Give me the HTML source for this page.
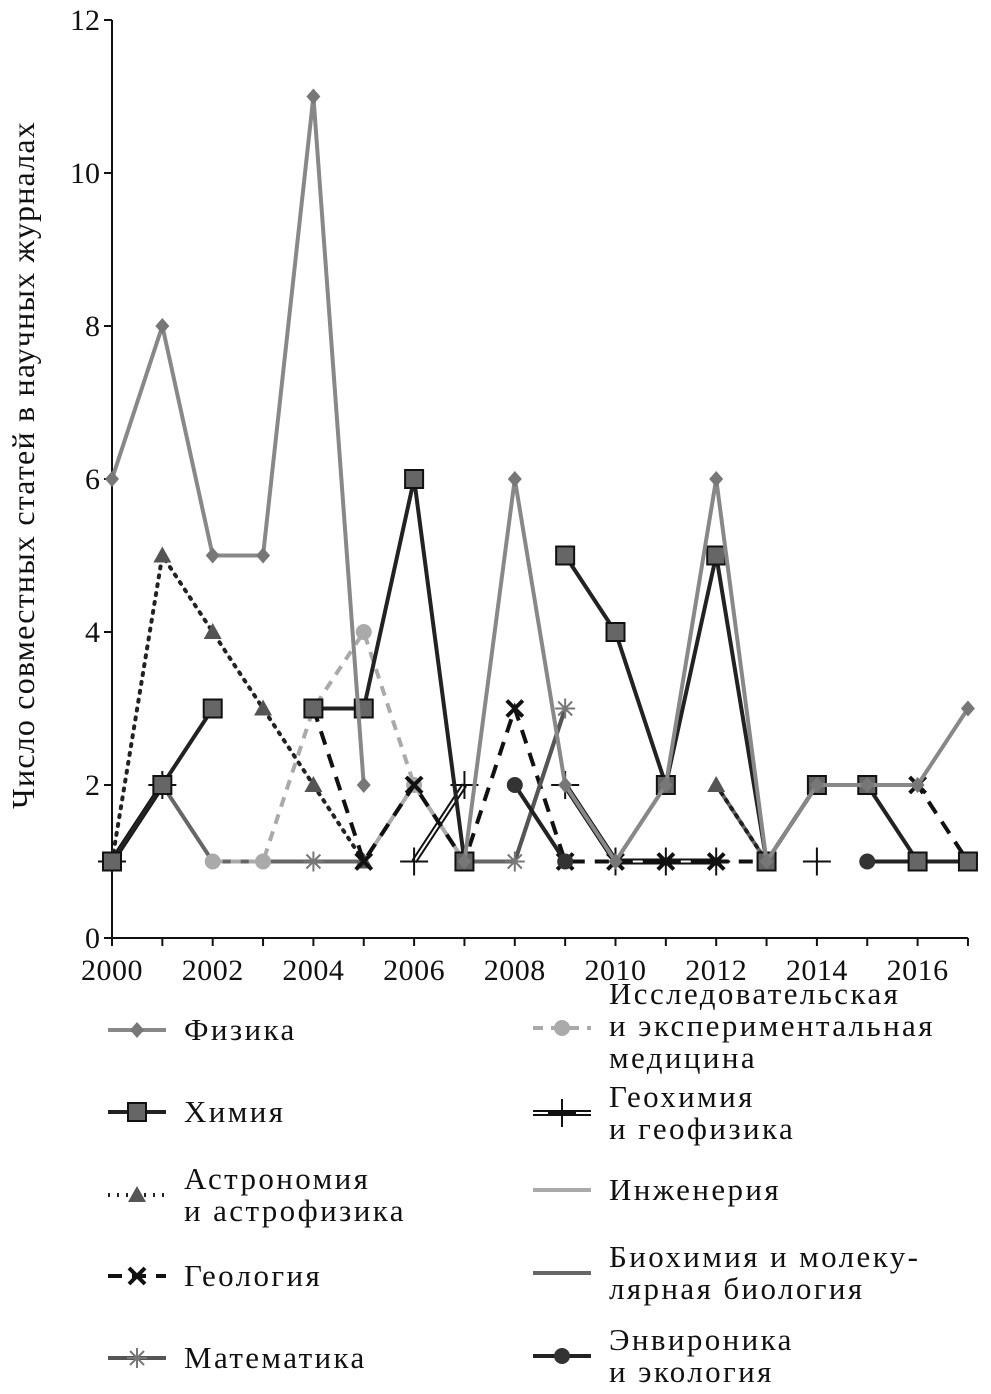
<!DOCTYPE html>
<html><head><meta charset="utf-8">
<style>
body{margin:0;background:#fff;}
svg{display:block;font-family:"Liberation Serif",serif;}
</style></head>
<body>
<svg id="chart" width="991" height="1394" viewBox="0 0 991 1394" xmlns="http://www.w3.org/2000/svg">
<text transform="translate(34,465) rotate(-90)" text-anchor="middle" font-size="32" letter-spacing="1.2" fill="#111">Число совместных статей в научных  журналах</text>
<g id="axes"></g>
<g id="series"></g>
<g id="legend"></g>
</svg>
<script>
const years=[2000,2001,2002,2003,2004,2005,2006,2007,2008,2009,2010,2011,2012,2013,2014,2015,2016,2017];
const yTicks=[0,2,4,6,8,10,12];
const xTickLabels=[2000,2002,2004,2006,2008,2010,2012,2014,2016];
const N=null;
const physics=[6,8,5,5,11,2,N,1,6,2,1,2,6,1,2,2,2,3];
const chemistry=[1,2,3,N,3,3,6,1,N,5,4,2,5,1,2,2,1,1];
const astronomy=[1,5,4,3,2,1,N,1,N,N,N,N,2,1,N,N,N,1];
const geology=[N,N,N,N,3,1,2,1,3,1,1,1,1,1,2,2,2,1];
const medicine=[N,N,1,1,3,4,2,1,N,N,N,N,N,N,N,N,N,N];
const geochem=[1,2,N,N,N,N,1,2,N,2,1,1,1,N,1,N,N,N];
const engineering=[1,2,N,N,N,1,2,1,N,N,1,2,N,N,N,N,1,1];
const biochem=[1,2,1,1,1,1,N,1,1,3,N,N,2,1,N,1,1,1];
const math=[N,N,N,N,1,N,N,N,1,3,N,N,N,N,N,N,N,N];
const envir=[N,N,N,N,N,N,N,N,2,1,N,N,N,1,N,1,1,1];

const X=y=>112+(y-2000)*50.35;
const Y=v=>938-v*76.5;
const NS="http://www.w3.org/2000/svg";
function el(t,a,p){const e=document.createElementNS(NS,t);for(const k in a)e.setAttribute(k,a[k]);p.appendChild(e);return e;}
const axes=document.getElementById('axes');
let ax=el('line',{x1:112,y1:20,x2:112,y2:938,stroke:'#111','stroke-width':2},axes);


let axx=el('line',{x1:112,y1:938,x2:968,y2:938,stroke:'#111','stroke-width':2},axes);


yTicks.forEach(v=>{
  el('line',{x1:104,x2:112,y1:Y(v),y2:Y(v),stroke:'#111','stroke-width':2},axes);
  const t=el('text',{x:100,y:Y(v)+10,'text-anchor':'end','font-size':30,fill:'#111'},axes);
  t.textContent=v;
  
  
});
years.forEach(y=>el('line',{x1:X(y),x2:X(y),y1:938,y2:946,stroke:'#111','stroke-width':2},axes));
xTickLabels.forEach(y=>{
  const t=el('text',{x:X(y),y:980,'text-anchor':'middle','font-size':30,'letter-spacing':'0.5',fill:'#111'},axes);
  t.textContent=y;
  
  
});
function marker(g,type,x,y,fill){
  if(type==='diamond')el('path',{d:`M${x} ${y-8}L${x+7} ${y}L${x} ${y+8}L${x-7} ${y}Z`,fill:fill},g);
  else if(type==='square')el('rect',{x:x-9,y:y-9,width:18,height:18,fill:'#666',stroke:'#111','stroke-width':2},g);
  else if(type==='tri')el('path',{d:`M${x} ${y-9}L${x+9} ${y+7}L${x-9} ${y+7}Z`,fill:'#555'},g);
  else if(type==='x'){el('path',{d:`M${x-8} ${y-8}L${x+8} ${y+8}M${x+8} ${y-8}L${x-8} ${y+8}`,stroke:'#111','stroke-width':4},g);}
  else if(type==='circle')el('circle',{cx:x,cy:y,r:8,fill:fill},g);
  else if(type==='plus')el('path',{d:`M${x-14} ${y}L${x+14} ${y}M${x} ${y-14}L${x} ${y+14}`,stroke:'#111','stroke-width':2},g);
  else if(type==='star')el('path',{d:`M${x-10} ${y}L${x+10} ${y}M${x} ${y-10}L${x} ${y+10}M${x-7} ${y-7}L${x+7} ${y+7}M${x+7} ${y-7}L${x-7} ${y+7}`,stroke:'#777','stroke-width':2},g);
}
const series=[
 {name:'engineering',d:engineering,c:'#aaa',w:4,dash:'',m:null},
 {name:'biochem',d:biochem,c:'#666',w:4,dash:'',m:null},
 {name:'medicine',d:medicine,c:'#aaa',w:4,dash:'10,8',m:'circle',mf:'#aaa'},
 {name:'geochem',d:geochem,c:'#111',w:6,dash:'',m:'plus',dbl:true},
 {name:'astronomy',d:astronomy,c:'#222',w:4,dash:'2,7',m:'tri'},
 {name:'geology',d:geology,c:'#111',w:4,dash:'14,10',m:'x'},
 {name:'math',d:math,c:'#555',w:4,dash:'',m:'star'},
 {name:'envir',d:envir,c:'#222',w:4,dash:'',m:'circle',mf:'#333'},
 {name:'chemistry',d:chemistry,c:'#222',w:4,dash:'',m:'square'},
 {name:'physics',d:physics,c:'#888',w:4,dash:'',m:'diamond',mf:'#777'}
];
const sg=document.getElementById('series');
series.forEach(s=>{
  const g=el('g',{},sg);
  
  
  let segs=[],cur=[];
  s.d.forEach((v,i)=>{if(v===null){if(cur.length)segs.push(cur);cur=[];}else cur.push([X(years[i]),Y(v)]);});
  if(cur.length)segs.push(cur);
  segs.forEach(seg=>{
    if(seg.length<2)return;
    const pts=seg.map(p=>p.join(',')).join(' ');
    const a={points:pts,fill:'none',stroke:s.c,'stroke-width':s.w,'stroke-linecap':s.dash==='2,7'?'round':'butt'};
    if(s.dash)a['stroke-dasharray']=s.dash;
    el('polyline',a,g);
    if(s.dbl)el('polyline',{points:pts,fill:'none',stroke:'#fff','stroke-width':2},g);
  });
  if(s.m)s.d.forEach((v,i)=>{if(v!==null)marker(g,s.m,X(years[i]),Y(v),s.mf||'#666');});
});
const lg=document.getElementById('legend');
const leg=[
 {x:108,y:1030,t:['Физика'],c:'#888',dash:'',m:'diamond',mf:'#777',w:4},
 {x:108,y:1112,t:['Химия'],c:'#222',dash:'',m:'square',w:4},
 {x:108,y:1195,t:['Астрономия','и астрофизика'],c:'#222',dash:'2,7',m:'tri',w:4},
 {x:108,y:1276,t:['Геология'],c:'#111',dash:'14,10',m:'x',w:4},
 {x:108,y:1358,t:['Математика'],c:'#555',dash:'',m:'star',w:4},
 {x:533,y:1028,t:['Исследовательская','и экспериментальная','медицина'],c:'#aaa',dash:'10,8',m:'circle',mf:'#aaa',w:4},
 {x:533,y:1113,t:['Геохимия','и геофизика'],c:'#111',dash:'',m:'plus',w:6,dbl:true},
 {x:533,y:1190,t:['Инженерия'],c:'#aaa',dash:'',m:null,w:4},
 {x:533,y:1273,t:['Биохимия и молеку-','лярная биология'],c:'#666',dash:'',m:null,w:4},
 {x:533,y:1356,t:['Энвироника','и экология'],c:'#222',dash:'',m:'circle',mf:'#333',w:4}
];
leg.forEach(L=>{
  const g=el('g',{},lg);
  
  
  const a={x1:L.x,x2:L.x+58,y1:L.y,y2:L.y,stroke:L.c,'stroke-width':L.w};
  if(L.dash)a['stroke-dasharray']=L.dash;
  el('line',a,g);
  if(L.dbl)el('line',{x1:L.x,x2:L.x+58,y1:L.y,y2:L.y,stroke:'#fff','stroke-width':2},g);
  if(L.m)marker(g,L.m,L.x+29,L.y,L.mf||'#666');
  const n=L.t.length;
  const top=L.y+10-(n-1)*32/2 - (n===3?2:0);
  L.t.forEach((s,i)=>{
    const t=el('text',{x:L.x+76,y:top+i*32,'font-size':31,fill:'#111','letter-spacing':'2.4'},g);
    t.textContent=s;
  });
});
</script>
</body></html>
